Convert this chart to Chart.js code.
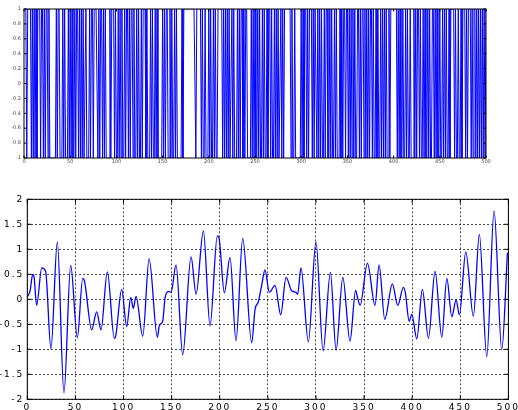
<!DOCTYPE html>
<html>
<head>
<meta charset="utf-8">
<script src="https://cdn.jsdelivr.net/npm/chart.js@4.4.1/dist/chart.umd.min.js"></script>
<style>
  html, body { margin: 0; padding: 0; background: #fff; }
  body { width: 518px; height: 410px; position: relative; overflow: hidden; }
  #topChart { position: absolute; left: 0; top: 0; }
  #botChart { position: absolute; left: 0; top: 190px; }
</style>
</head>
<body>
<canvas id="topChart" width="518" height="175"></canvas>
<canvas id="botChart" width="518" height="220"></canvas>
<script>
// Binary ±1 input sequence, samples 1..500, in blocks
const bitsA = [1,1,-1,1,1,1,1,-1,1,-1,1,-1,1,-1,1,1,1,-1,1,1,-1,1,-1,1,1,-1,1,-1,-1,-1,-1,-1,-1,-1,1,-1,1,1,-1,-1,-1,1,-1,1,-1,-1,-1,1,-1,1];
const bitsB = [-1,1,-1,-1,1,-1,1,1,-1,1,-1,1,-1,1,-1,-1,1,-1,-1,-1,1,-1,1,1,-1,1,1,1,1,-1,1,-1,1,1,-1,1,-1,1,-1,-1,-1,-1,1,-1,1,1,1,-1,1,-1,-1];
const bitsC = [1,-1,1,-1,1,-1,-1,1,-1,1,1,-1,1,-1,1,1,-1,1,-1,-1,1,-1,1,-1,-1,1,-1,1,1,1,-1,1,-1,-1,-1,1,-1,1,-1,-1,1,-1,1,-1,-1,-1,-1,-1,1];
const bitsD1 = [-1,1,-1,1,1,-1,-1,1,-1,1,-1,-1,1,-1,1,-1,-1,-1,-1,-1,1,-1,1,1,1,1,1,1,1,1,1,1,1,1,1];
const bitsD2 = [-1,1,1,1,1,1,-1,1,-1,-1,1,-1,-1,-1,1,-1,1,-1,-1,1,-1,1,-1,-1,1,1,1,1,1,-1,1,-1,1,-1,1,-1,1,-1,-1,1,-1,1,-1,-1,-1];
const bitsE1 = [1,-1,1,-1,1,1,-1,1,-1,1,1,-1,-1,-1,-1,1,-1,1,-1,1,-1,-1,1,-1,1,-1,-1,1,-1,1,-1,-1,1,-1,1,1,-1,1,-1,-1,1,-1,1,-1,1,-1,-1,1,-1,1,-1];
const bitsE2 = [1,1,1,1,1,1,1,-1,1,-1,-1,1,-1,-1,-1,-1,-1,-1,1,-1,1,-1,1,1,-1,1,-1,1,1,1,-1,1,-1,1,1,-1,1,-1,1,-1,1,-1,-1,1,-1,1,1,-1,-1,1,-1,1,-1,-1,1,-1];
const bitsF1 = [1,-1,-1,-1,1,-1,1,-1,1,1,-1,1,1,-1,1,-1,1,-1,1,-1,1,-1,-1,1,1,-1,1,-1,1,1,-1,1,-1,1,-1,1,-1,1,1,-1,1,-1,-1,1,-1,1,-1,-1,1,-1,1,-1,1,-1,1,-1,-1,1,-1];
const bitsF2 = [1,1,1,1,1,1,1,-1,1,-1,1,-1,-1,1,-1,-1,1,-1,1,-1,-1,1,-1,-1,-1,1,-1,1,-1,1,1,-1,1,-1,-1,1,-1,1,-1,-1,1,-1,1,-1,-1,1,1,-1,1,-1,1];
const bitsF3 = [-1,-1,1,-1,-1,1,-1,1,-1,1,-1,-1,1,-1,1,1,1,1,-1,1,-1,-1,1,-1,-1,1,-1,1,1,1,-1,1,-1,1,1,1,-1,1,-1,1,1,-1,1,-1,1,-1,1,-1,1,-1,1,-1,1];

// Filtered output signal: sample positions and values
const waveX = [0,3,5.6,7,9.7,15,19,24.6,31.2,38.1,45.1,52,57.6,59.5,66.9,72.1,76.6,83.2,90.4,92,98.1,103.3,107.5,110.2,113,120,126.6,135.2,137.3,140.7,143.1,146.6,149.4,154.6,161.5,170.2,175.4,183,189.9,197.5,199.5,204.8,210.7,216.9,223.9,233.2,236.7,240.1,243.6,247,251.6,257.5,263.4,268.9,274.8,279.3,281,284.4,292.1,300,307.4,315,320.9,327.9,335.4,341.2,343,345.9,353.5,361.4,365.6,371.5,379.4,385,390.9,393,396.8,399.6,404.8,410.6,416.9,423.8,430.8,436,441.2,445.6,449.1,455.7,463.6,469.8,477.5,485.1,493.1,499];
const waveY = [0.05,0.18,0.5,0.45,-0.12,0.63,0.56,-0.99,1.15,-1.87,0.68,-0.77,0.42,0.36,-0.61,-0.25,-0.61,0.55,-0.78,-0.72,0.2,-0.55,0.04,-0.18,0.06,-0.74,0.81,-0.76,-0.52,-0.44,0.02,0.16,0.14,0.69,-1.11,0.85,0.1,1.37,-0.53,1.27,1.2,0.13,0.84,-0.83,1.22,-0.87,-0.2,-0.05,0.28,0.59,0.14,0.28,-0.31,0.44,0.17,0.14,0.1,0.63,-0.85,1.15,-1.03,0.54,-1.02,0.44,-0.84,0.18,0.05,-0.12,0.72,-0.12,0.69,-0.4,0.31,-0.12,0.24,0.12,-0.44,-0.3,-0.79,0.2,-0.78,0.56,-0.76,0.42,-0.35,-0.01,-0.31,0.95,-0.34,1.3,-1.15,1.77,-1.01,0.93];

// Axis tick settings
const xTickStep = 50;
const topYTickStep = 0.2;
const botYTickStep = 0.5;

const bits = [].concat(bitsA, bitsB, bitsC, bitsD1, bitsD2, bitsE1, bitsE2, bitsF1, bitsF2, bitsF3);
const bitPoints = bits.map((v, i) => ({ x: i + 1, y: v }));
const wavePoints = waveX.map((x, i) => ({ x: x, y: waveY[i] }));

const fmt = v => String(+Number(v).toFixed(1));

// Box around the axes plus inward tick marks on all four sides
const boxPlugin = {
  id: 'box',
  beforeDraw(chart, args, opts) {
    chart.ctx.letterSpacing = opts.spacing || '0px';
  },
  afterDatasetsDraw(chart, args, opts) {
    const { ctx, chartArea: a, scales } = chart;
    const len = opts.tick || 3;
    ctx.save();
    ctx.letterSpacing = '0px';
    ctx.strokeStyle = '#000';
    ctx.lineWidth = 1;
    ctx.beginPath();
    scales.x.ticks.forEach(t => {
      const px = scales.x.getPixelForValue(t.value);
      ctx.moveTo(px, a.bottom); ctx.lineTo(px, a.bottom - len);
      ctx.moveTo(px, a.top); ctx.lineTo(px, a.top + len);
    });
    scales.y.ticks.forEach(t => {
      const py = scales.y.getPixelForValue(t.value);
      ctx.moveTo(a.left, py); ctx.lineTo(a.left + len, py);
      ctx.moveTo(a.right, py); ctx.lineTo(a.right - len, py);
    });
    ctx.stroke();
    ctx.strokeRect(a.left, a.top, a.right - a.left, a.bottom - a.top);
    ctx.restore();
  }
};

function fixX(h) {
  return s => { s.height = h; s.paddingLeft = 0; s.paddingRight = 0; };
}
function fixY(w) {
  return s => { s.width = w; s.paddingTop = 0; s.paddingBottom = 0; };
}

// Upper panel: binary sequence
new Chart(document.getElementById('topChart'), {
  type: 'line',
  data: { datasets: [{
    data: bitPoints, borderColor: '#0000ff', borderWidth: 1,
    pointRadius: 0, tension: 0, fill: false
  }] },
  options: {
    responsive: false, animation: false, events: [],
    layout: { padding: { top: 9, right: 32, left: 0, bottom: 0 } },
    plugins: { legend: { display: false }, tooltip: { enabled: false },
               box: { tick: 2.5, spacing: '0px' } },
    scales: {
      x: {
        type: 'linear', min: 0, max: 500,
        ticks: { stepSize: xTickStep, autoSkip: false, maxRotation: 0, padding: 1,
                 color: '#444', font: { size: 5, family: 'DejaVu Sans' } },
        grid: { display: false, drawTicks: false },
        border: { display: false },
        afterFit: fixX(17)
      },
      y: {
        type: 'linear', min: -1, max: 1,
        ticks: { stepSize: topYTickStep, autoSkip: false, padding: 3, callback: fmt,
                 color: '#444', font: { size: 5, family: 'DejaVu Sans' } },
        grid: { display: false, drawTicks: false },
        border: { display: false },
        afterFit: fixY(24)
      }
    }
  },
  plugins: [boxPlugin]
});

// Lower panel: filtered output
new Chart(document.getElementById('botChart'), {
  type: 'line',
  data: { datasets: [{
    data: wavePoints, borderColor: '#0000ff', borderWidth: 1.3,
    pointRadius: 0, cubicInterpolationMode: 'monotone', fill: false
  }] },
  options: {
    responsive: false, animation: false, events: [],
    layout: { padding: { top: 9.3, right: 9.6, left: 0, bottom: 0 } },
    plugins: { legend: { display: false }, tooltip: { enabled: false },
               box: { tick: 4, spacing: '2px' } },
    scales: {
      x: {
        type: 'linear', min: 0, max: 500,
        ticks: { stepSize: xTickStep, autoSkip: false, maxRotation: 0, padding: 3,
                 color: '#000', font: { size: 9, family: 'DejaVu Sans' } },
        grid: { color: 'rgba(40,40,40,0.85)', borderDash: [2, 2], lineWidth: 1, drawTicks: false },
        border: { display: false, dash: [2, 2] },
        afterFit: fixX(10.7)
      },
      y: {
        type: 'linear', min: -2, max: 2,
        ticks: { stepSize: botYTickStep, autoSkip: false, padding: 3, callback: fmt,
                 color: '#000', font: { size: 9, family: 'DejaVu Sans' } },
        grid: { color: 'rgba(40,40,40,0.85)', lineWidth: 1, drawTicks: false },
        border: { display: false, dash: [2, 2] },
        afterFit: fixY(27.3)
      }
    }
  },
  plugins: [boxPlugin]
});
</script>
</body>
</html>
